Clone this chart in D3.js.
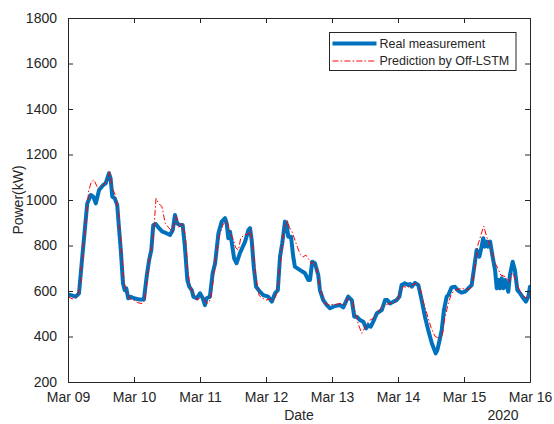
<!DOCTYPE html>
<html>
<head>
<meta charset="utf-8">
<script src="https://cdn.jsdelivr.net/npm/d3@7"></script>
<style>
  html, body { margin: 0; padding: 0; background: #fff; }
  svg { display: block; font-family: "Liberation Sans", Arial, Helvetica, sans-serif; }
</style>
</head>
<body>
<svg id="chart" width="554" height="424"></svg>
<script>
// Hours elapsed since 2020-03-09 00:00 and measured power (kW)
const realHours = [0, 1.0, 2.8, 4.0, 5.2, 6.1, 7.0, 8.3, 9.2, 10.1, 11.3, 12.8, 13.7, 14.9, 15.5, 16.1, 17.0, 17.9, 18.5, 19.2, 20.0, 20.6, 21.2, 21.9, 22.8, 24.0, 25.8, 27.6, 28.6, 29.5, 30.3, 31.0, 31.9, 33.1, 34.3, 35.6, 37.1, 38.1, 38.9, 39.7, 40.7, 41.7, 42.5, 43.4, 44.1, 45.0, 45.6, 46.8, 48.0, 49.0, 49.8, 50.4, 51.6, 52.6, 53.5, 54.7, 55.9, 57.1, 57.7, 58.3, 58.9, 59.5, 60.4, 61.3, 62.5, 64.4, 65.6, 66.2, 66.8, 67.6, 68.4, 69.8, 71.0, 72.8, 74.1, 75.3, 76.3, 77.1, 77.9, 78.9, 79.5, 80.1, 81.1, 81.9, 82.5, 84.4, 86.2, 87.4, 88.0, 88.8, 89.8, 91.0, 91.6, 92.8, 94.1, 95.3, 97.1, 98.9, 100.1, 101.9, 103.2, 104.1, 105.0, 106.2, 107.4, 108.4, 109.2, 110.1, 111.0, 112.3, 114.1, 115.3, 116.1, 117.1, 118.3, 119.5, 120.5, 121.3, 122.5, 123.7, 124.4, 125.0, 126.2, 127.4, 128.6, 129.8, 131.0, 132.3, 133.7, 134.3, 135.0, 135.9, 136.7, 137.7, 138.3, 139.5, 140.7, 141.9, 143.2, 144.4, 145.6, 146.8, 147.4, 148.6, 149.6, 150.4, 151.0, 151.6, 152.3, 152.8, 153.5, 154.4, 155.3, 155.9, 156.5, 157.1, 157.7, 158.3, 158.9, 159.5, 160.1, 160.7, 161.7, 162.5, 163.4, 164.4, 165.6, 166.5, 167.4, 168.0];
const realPower = [585, 582, 575, 590, 751, 868, 985, 1022, 1015, 985, 1044, 1066, 1073, 1117, 1095, 1015, 1007, 978, 883, 780, 634, 604, 612, 568, 575, 568, 563, 563, 663, 736, 780, 890, 894, 876, 861, 855, 846, 868, 934, 897, 890, 890, 795, 648, 619, 604, 575, 568, 590, 568, 538, 568, 575, 678, 722, 854, 905, 920, 897, 832, 861, 817, 744, 722, 766, 817, 868, 876, 824, 700, 619, 597, 582, 575, 553, 590, 604, 751, 810, 905, 897, 839, 839, 751, 707, 692, 678, 648, 648, 729, 722, 670, 604, 560, 538, 524, 534, 538, 528, 575, 560, 487, 487, 472, 465, 436, 450, 443, 465, 502, 516, 560, 560, 545, 553, 560, 575, 626, 634, 626, 630, 619, 636, 626, 560, 487, 428, 370, 326, 340, 377, 428, 516, 575, 582, 616, 619, 601, 593, 597, 612, 626, 678, 780, 751, 795, 832, 795, 817, 795, 817, 751, 692, 612, 648, 612, 656, 612, 648, 626, 597, 670, 729, 692, 604, 590, 568, 553, 575, 619];

// Hours elapsed since 2020-03-09 00:00 and Off-LSTM predicted power (kW)
const predHours = [0, 1.5, 3.5, 4.5, 5.5, 6.5, 7.5, 8.5, 9.5, 10.5, 11.5, 13.0, 14.0, 15.2, 16.0, 17.2, 18.2, 19.0, 19.8, 20.6, 21.5, 22.5, 24.0, 25.5, 27.0, 28.0, 29.0, 30.0, 31.0, 32.0, 33.0, 34.2, 35.3, 36.5, 38.0, 39.2, 40.3, 41.5, 42.7, 43.5, 44.4, 45.5, 47.0, 48.5, 49.8, 50.5, 51.5, 52.5, 53.7, 55.0, 56.3, 57.7, 59.0, 60.0, 61.0, 62.0, 62.8, 64.0, 65.5, 66.5, 67.5, 68.5, 69.5, 70.5, 72.0, 73.5, 74.5, 75.5, 76.5, 77.5, 78.5, 79.7, 80.5, 81.5, 82.5, 83.5, 84.5, 85.5, 86.5, 87.5, 88.5, 89.5, 90.3, 91.3, 92.2, 93.5, 95.0, 97.0, 99.0, 100.5, 102.0, 103.5, 104.5, 105.7, 106.8, 108.0, 109.5, 111.0, 112.5, 114.0, 115.5, 117.0, 118.5, 119.8, 120.8, 122.0, 123.5, 125.0, 126.7, 128.0, 129.0, 130.5, 132.0, 133.5, 135.0, 136.0, 137.0, 138.3, 139.5, 141.0, 143.0, 145.0, 146.5, 147.7, 149.0, 150.5, 151.2, 152.2, 153.5, 155.0, 156.3, 157.4, 159.0, 160.5, 161.5, 162.5, 163.6, 165.0, 166.7, 168.0];
const predPower = [575, 565, 580, 640, 780, 900, 1040, 1080, 1088, 1060, 1050, 1070, 1080, 1125, 1060, 1020, 960, 850, 720, 620, 590, 565, 560, 548, 545, 560, 680, 760, 830, 1007, 985, 970, 900, 880, 860, 930, 880, 900, 840, 700, 620, 590, 560, 575, 560, 545, 555, 620, 740, 840, 890, 912, 854, 830, 790, 780, 832, 846, 850, 870, 760, 640, 580, 570, 560, 565, 555, 575, 640, 760, 860, 912, 880, 860, 824, 790, 760, 750, 758, 740, 720, 729, 700, 640, 590, 545, 540, 540, 545, 540, 570, 555, 500, 450, 414, 440, 470, 480, 500, 530, 540, 545, 550, 560, 600, 620, 615, 625, 635, 610, 560, 500, 440, 400, 392, 400, 480, 546, 590, 604, 612, 605, 615, 680, 800, 860, 885, 840, 800, 729, 700, 670, 663, 640, 680, 660, 619, 585, 568, 597];

const yTicks = [200, 400, 600, 800, 1000, 1200, 1400, 1600, 1800];
const seriesNames = ["Real measurement", "Prediction by Off-LSTM"];
const axisTitleX = "Date";
const axisTitleY = "Power(kW)";
const yearLabel = "2020";

const start = new Date(Date.UTC(2020, 2, 9));
const end = new Date(Date.UTC(2020, 2, 16));
const toDate = h => new Date(start.getTime() + h * 3600 * 1000);

const realData = realHours.map((h, i) => ({ t: toDate(h), v: realPower[i] }));
const predData = predHours.map((h, i) => ({ t: toDate(h), v: predPower[i] }));

const margin = { left: 68, right: 24, top: 18, bottom: 42 };
const W = 554, H = 424;
const innerW = W - margin.left - margin.right;
const innerH = H - margin.top - margin.bottom;

const ink = "#262626";
const blue = "#0072BD";
const red = "#FF0000";
const dashDot = "6,2.2,1.5,2.2";
const svg = d3.select("#chart");

const x = d3.scaleUtc().domain([start, end]).range([margin.left, margin.left + innerW]);
const y = d3.scaleLinear().domain([200, 1800]).range([margin.top + innerH, margin.top]);

const dayTicks = d3.utcDay.range(start, d3.utcDay.offset(end, 1));
const fmt = d3.utcFormat("%b %d");

// Data lines, clipped to the plot box
svg.append("clipPath").attr("id", "plotClip")
  .append("rect").attr("x", margin.left).attr("y", margin.top)
  .attr("width", innerW).attr("height", innerH);

const line = d3.line().x(d => x(d.t)).y(d => y(d.v));
const plot = svg.append("g").attr("clip-path", "url(#plotClip)");

plot.append("path").datum(realData)
  .attr("d", line)
  .attr("fill", "none")
  .attr("stroke", blue)
  .attr("stroke-width", 4)
  .attr("stroke-linejoin", "round")
  .attr("stroke-linecap", "round");

plot.append("path").datum(predData)
  .attr("d", line)
  .attr("fill", "none")
  .attr("stroke", red)
  .attr("stroke-width", 1)
  .attr("stroke-dasharray", dashDot);

// Axes: ticks point inward, mirrored on the top and right edges
const tickLen = 5;
const axisBottom = d3.axisBottom(x).tickValues(dayTicks).tickFormat(fmt).tickSizeInner(-tickLen).tickSizeOuter(0).tickPadding(10);
const axisTop = d3.axisTop(x).tickValues(dayTicks).tickFormat("").tickSizeInner(-tickLen).tickSizeOuter(0);
const axisLeft = d3.axisLeft(y).tickValues(yTicks).tickFormat(d3.format("d")).tickSizeInner(-tickLen).tickSizeOuter(0).tickPadding(11);
const axisRight = d3.axisRight(y).tickValues(yTicks).tickFormat("").tickSizeInner(-tickLen).tickSizeOuter(0);

function styleAxis(g) {
  g.select(".domain").attr("stroke", ink).attr("stroke-width", 1);
  g.selectAll(".tick line").attr("stroke", ink).attr("stroke-width", 1);
  g.selectAll(".tick text").attr("fill", ink).style("font-size", "14px")
    .style("font-family", "'Liberation Sans', Arial, Helvetica, sans-serif");
}

svg.append("g").attr("transform", `translate(0,${margin.top + innerH})`).call(axisBottom).call(styleAxis);
svg.append("g").attr("transform", `translate(0,${margin.top})`).call(axisTop).call(styleAxis);
svg.append("g").attr("transform", `translate(${margin.left},0)`).call(axisLeft).call(styleAxis);
svg.append("g").attr("transform", `translate(${margin.left + innerW},0)`).call(axisRight).call(styleAxis);

// Axis titles
svg.append("text")
  .attr("x", margin.left + innerW / 2).attr("y", 420)
  .attr("text-anchor", "middle").attr("fill", ink).style("font-size", "14px")
  .text(axisTitleX);

svg.append("text")
  .attr("x", x(end)).attr("y", 420)
  .attr("dx", -27)
  .attr("text-anchor", "middle").attr("fill", ink).style("font-size", "14px")
  .text(yearLabel);

svg.append("text")
  .attr("transform", `translate(23,${margin.top + innerH / 2}) rotate(-90)`)
  .attr("text-anchor", "middle").attr("fill", ink).style("font-size", "14px")
  .text(axisTitleY);

// Legend
const legend = svg.append("g").attr("transform", "translate(329.5,32.5)");
legend.append("rect").attr("width", 186.5).attr("height", 38)
  .attr("fill", "#fff").attr("stroke", ink).attr("stroke-width", 1);

const legendRows = [
  { name: seriesNames[0], color: blue, width: 4, dash: null },
  { name: seriesNames[1], color: red, width: 1, dash: dashDot }
];
legendRows.forEach((r, i) => {
  const cy = 11 + i * 17.5;
  legend.append("line")
    .attr("x1", 3).attr("x2", 47).attr("y1", cy).attr("y2", cy)
    .attr("stroke", r.color).attr("stroke-width", r.width)
    .attr("stroke-dasharray", r.dash);
  legend.append("text")
    .attr("x", 50).attr("y", cy).attr("dy", "0.35em")
    .attr("fill", ink).style("font-size", "12.5px")
    .text(r.name);
});
</script>
</body>
</html>
